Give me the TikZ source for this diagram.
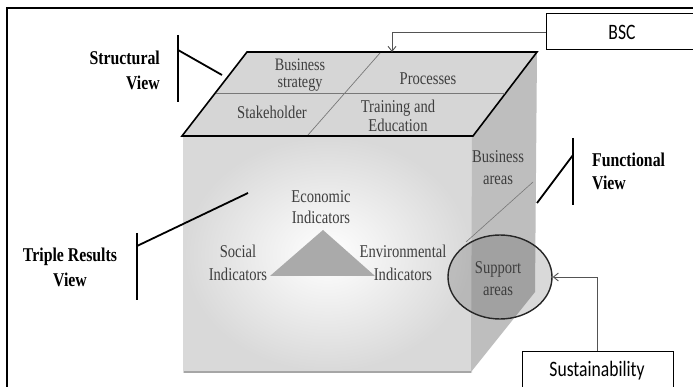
\documentclass[tikz,border=0pt]{standalone}
\usepackage{fontspec}
\setmainfont{Liberation Serif}
\newfontfamily\sfc[FakeStretch=0.8]{Carlito}
\newfontfamily\serc[FakeStretch=0.81]{Liberation Serif}
\usetikzlibrary{shapes.geometric,arrows.meta}
\definecolor{topgray}{RGB}{214,214,214}
\definecolor{sidegray}{RGB}{190,190,190}
\definecolor{trigray}{RGB}{170,170,170}
\definecolor{txtgray}{RGB}{62,62,62}
\definecolor{divgray}{RGB}{120,120,120}
\tikzset{
  intext/.style={text=txtgray, align=center, inner sep=0pt, font=\serc\fontsize{18}{20}\selectfont},
  viewtext/.style={text=black, inner sep=0pt, font=\serc\bfseries\fontsize{19.5}{25}\selectfont},
  viewline/.style={line width=1.8pt, black},
  boxstyle/.style={draw, line width=1pt, rectangle, inner sep=0pt},
  boxtext/.style={inner sep=0pt, font=\sfc\fontsize{22}{24}\selectfont},
  arr/.style={line width=0.9pt, divgray!70!black, -{Straight Barb[length=5pt,width=8pt]}}
}
\begin{document}
\begin{tikzpicture}[x=1pt,y=-1pt]
\useasboundingbox (0,0) rectangle (693,387);
\fill[white] (0,0) rectangle (693,387);
% outer frame
\draw[line width=1.8pt] (7,400) -- (7,8) -- (700,8);
% front face
\shade[inner color=white, outer color=gray!30] (183,136) rectangle (472,372);
\draw[gray!70, line width=1.5pt] (184,372) -- (471,372);
% right face
\fill[sidegray] (472,136) -- (537,52) -- (535,292) -- (471,372) -- cycle;
\draw[divgray, line width=0.6pt] (533,182) -- (466,242);
% top face
\filldraw[fill=topgray, line width=1.6pt, line join=miter] (247,52) -- (537,52) -- (473,136) -- (182,136) -- cycle;
\draw[divgray, line width=0.7pt] (216,93) -- (505,93);
\draw[divgray, line width=0.7pt] (380,53) -- (308,135);
% triangle
\fill[trigray] (270,276) -- (323,230) -- (375,276) -- cycle;
% texts on top face
\node[intext, font=\serc\fontsize{17.5}{17}\selectfont] (bs) at (300,75) {Business\\strategy};
\node[intext] (proc) at (428,79) {Processes};
\node[intext] (stake) at (272,112) {Stakeholder};
\node[intext, font=\serc\fontsize{18}{19}\selectfont] (train) at (398,116) {Training and\\Education};
% right face texts
\node[intext, font=\serc\fontsize{18}{22}\selectfont] (barea) at (498,168) {Business\\areas};
% ellipse
\node[ellipse, draw=black!85, line width=1.4pt, fill=black, fill opacity=0.15, text opacity=1, minimum width=104pt, minimum height=84pt, inner sep=0pt] (ell) at (500,277) {};
\node[intext, font=\serc\fontsize{18}{22}\selectfont] (sarea) at (498,279) {Support\\areas};
% indicators
\node[intext, font=\serc\fontsize{18}{21}\selectfont] (eco) at (321,207) {Economic\\Indicators};
\node[intext, font=\serc\fontsize{18}{23}\selectfont] (soc) at (238,263) {Social\\Indicators};
\node[intext, font=\serc\fontsize{18}{23}\selectfont] (env) at (403,263) {Environmental\\Indicators};
% view labels
\node[viewtext, align=right, anchor=east] (sv) at (160,70) {Structural\\View};
\node[viewtext, align=left, anchor=west, font=\serc\bfseries\fontsize{19.5}{23}\selectfont] (fv) at (592,171) {Functional\\View};
\node[viewtext, align=center] (tv) at (70,267) {Triple Results\\View};
% view brackets
\coordinate (svtop) at (178,35); \coordinate (svbot) at (178,102);
\coordinate (svjoin) at (178,50); \coordinate (svend) at (222,75);
\draw[viewline] (svtop) -- (svbot);
\draw[viewline] (svjoin) -- (svend);
\coordinate (fvtop) at (573,138); \coordinate (fvbot) at (573,205);
\coordinate (fvjoin) at (573,155); \coordinate (fvend) at (537,203);
\draw[viewline] (fvtop) -- (fvbot);
\draw[viewline] (fvjoin) -- (fvend);
\coordinate (tvtop) at (137,233); \coordinate (tvbot) at (137,300);
\coordinate (tvjoin) at (137,246); \coordinate (tvend) at (248,193);
\draw[viewline] (tvtop) -- (tvbot);
\draw[viewline] (tvjoin) -- (tvend);
% BSC box
\node[boxstyle, anchor=west, minimum width=180pt, minimum height=36pt] (bsc) at (546,32) {};
\node[boxtext] (bsctext) at (622,32) {BSC};
\coordinate (topin) at (392,52);
\draw[arr] (bsc.west) -| (topin);
% Sustainability box
\node[boxstyle, anchor=north, minimum width=151pt, minimum height=60pt] (sus) at (597.5,351) {};
\node[boxtext] (sustext) at (597,371) {Sustainability};
\draw[arr] (sus.north) |- (ell.east);
\end{tikzpicture}
\end{document}
